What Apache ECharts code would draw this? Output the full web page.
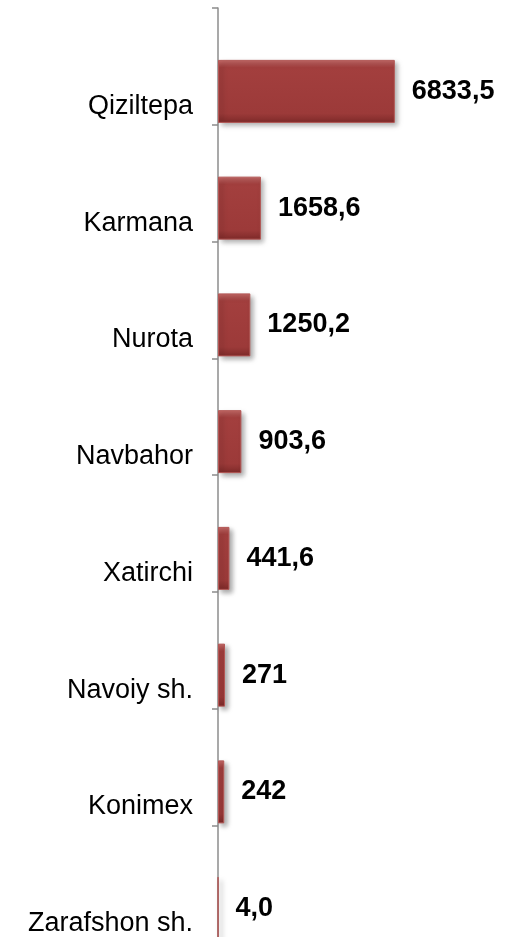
<!DOCTYPE html>
<html>
<head>
<meta charset="utf-8">
<script src="https://cdn.jsdelivr.net/npm/echarts@6/dist/echarts.min.js"></script>
<style>
  html, body { margin: 0; padding: 0; background: #fff; }
  #chart { width: 515px; height: 937px; }
</style>
</head>
<body>
<div id="chart"></div>
<script>
const districts = ['Qiziltepa', 'Karmana', 'Nurota', 'Navbahor', 'Xatirchi', 'Navoiy sh.', 'Konimex', 'Zarafshon sh.']
const amounts = [6833.5, 1658.6, 1250.2, 903.6, 441.6, 271, 242, 4.0]
const amountLabels = ['6833,5', '1658,6', '1250,2', '903,6', '441,6', '271', '242', '4,0']

const chart = echarts.init(document.getElementById('chart'))

const option = {
  animation: false,
  grid: {
    left: 218,
    top: 8,
    width: 207,
    height: 934,
    outerBoundsMode: 'none',
    containLabel: false
  },
  xAxis: {
    type: 'value',
    min: 0,
    max: 8000,
    show: false
  },
  yAxis: {
    type: 'category',
    inverse: true,
    data: districts,
    axisLine: {
      show: true,
      lineStyle: { color: '#8c8c8c', width: 1.5 }
    },
    axisTick: {
      show: true,
      length: 6,
      lineStyle: { color: '#8c8c8c', width: 1.5 }
    },
    axisLabel: {
      interval: 0,
      showMinLabel: true,
      showMaxLabel: true,
      hideOverlap: false,
      margin: 25,
      fontFamily: 'Liberation Sans',
      fontSize: 27,
      color: '#000',
      lineHeight: 80,
      // blank first line pushes the name down toward the bar
      formatter: v => '\n' + v
    }
  },
  series: [
    {
      // spacer so the real bar sits at the bottom of its band
      type: 'bar',
      barWidth: 50,
      barGap: '0%',
      data: districts.map(() => '-'),
      silent: true
    },
    {
      type: 'bar',
      barWidth: 63,
      data: amounts,
      itemStyle: {
        color: new echarts.graphic.LinearGradient(0, 0, 0, 1, [
          { offset: 0, color: '#c46a68' },
          { offset: 0.12, color: '#a33f3e' },
          { offset: 0.85, color: '#9c3a39' },
          { offset: 1, color: '#7e2a29' }
        ]),
        borderColor: '#b35755',
        borderWidth: 1,
        shadowColor: 'rgba(0,0,0,0.35)',
        shadowBlur: 5,
        shadowOffsetX: 3,
        shadowOffsetY: 3
      },
      label: {
        show: true,
        position: 'right',
        distance: 17,
        fontFamily: 'Liberation Sans',
        fontWeight: 'bold',
        fontSize: 27,
        color: '#000',
        formatter: p => amountLabels[p.dataIndex]
      }
    }
  ]
}

chart.setOption(option)
</script>
</body>
</html>
